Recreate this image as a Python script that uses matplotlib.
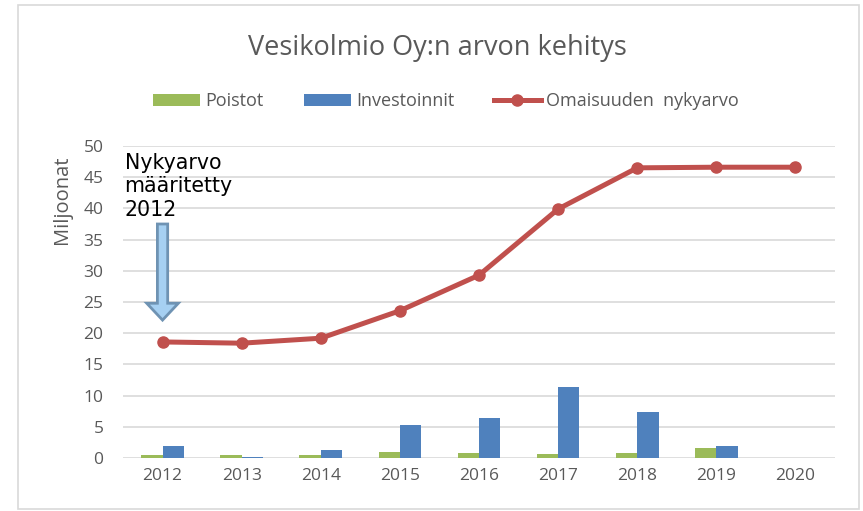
import numpy as np
import matplotlib.pyplot as plt
from matplotlib.patches import Rectangle, FancyArrow

# data (millions)
years = ['2012', '2013', '2014', '2015', '2016', '2017', '2018', '2019', '2020']
poistot = [0.45, 0.45, 0.45, 0.95, 0.8, 0.65, 0.8, 1.65, 0.0]
investoinnit = [2.0, 0.2, 1.35, 5.3, 6.4, 11.3, 7.3, 1.85, 0.0]
nykyarvo = [18.6, 18.4, 19.2, 23.6, 29.3, 39.9, 46.5, 46.6, 46.6]

GREEN = '#9bbb59'
BLUE = '#4f81bd'
RED = '#c0504d'
GREY = '#595959'

plt.rcParams['font.family'] = ['Open Sans', 'DejaVu Sans']

fig = plt.figure(figsize=(8.63, 5.11), dpi=100)
ax = fig.add_axes([0.1425, 0.1037, 0.8251, 0.6106])

x = np.arange(len(years))
w = 0.27
b1 = ax.bar(x - w / 2, poistot, w, color=GREEN, label='Poistot', zorder=2)
b2 = ax.bar(x + w / 2, investoinnit, w, color=BLUE, label='Investoinnit', zorder=2)
l1, = ax.plot(x, nykyarvo, color=RED, lw=3.6, marker='o', ms=8,
              label='Omaisuuden  nykyarvo', zorder=3)

ax.set_xlim(-0.5, len(years) - 0.5)
ax.set_ylim(0, 50)
ax.set_yticks(np.arange(0, 51, 5))
ax.set_xticks(x)
ax.set_xticklabels(years)
ax.yaxis.grid(True, color='#d9d9d9', lw=1.2, zorder=0)
ax.set_axisbelow(True)
for s in ax.spines.values():
    s.set_visible(False)
ax.tick_params(length=0, labelsize=12.5, colors=GREY, pad=7)
ax.tick_params(axis='y', pad=14)

# axis title sits high, as in the original
fig.text(62 / 863, 1 - 200 / 511, 'Miljoonat', rotation=90, ha='center', va='center',
         fontsize=14.5, color=GREY)

fig.text(0.507, 0.907, 'Vesikolmio Oy:n arvon kehitys', ha='center', va='center',
         fontsize=19.5, color=GREY)

leg = fig.legend(handles=[b1, b2, l1], loc='center', bbox_to_anchor=(0.517, 0.802), ncol=3,
                 frameon=False, fontsize=13, handlelength=2.6, handleheight=0.6,
                 columnspacing=2.2, handletextpad=0.3)
for t in leg.get_texts():
    t.set_color(GREY)

# annotation and block arrow
ax.text(-0.48, 48.9, 'Nykyarvo\nmääritetty\n2012', ha='left', va='top', fontsize=14.8,
        color='black', family='DejaVu Sans', linespacing=1.22)
ax.add_patch(FancyArrow(0.0, 37.5, 0, -15.4, width=0.13, head_width=0.4, head_length=2.7,
                        length_includes_head=True, facecolor='#a6d0f2', edgecolor='#6f93b3',
                        lw=2.0, zorder=4))

# outer frame of the chart
fig.patches.append(Rectangle((18 / 863, 2 / 511), 841 / 863, 504 / 511, transform=fig.transFigure,
                             fill=False, edgecolor='#d9d9d9', lw=1.2))

fig.savefig('out.png', dpi=100)
